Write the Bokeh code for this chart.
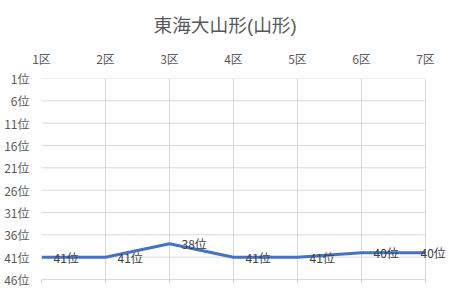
from bokeh.plotting import figure
from bokeh.models import (Range1d, LinearAxis, FixedTicker, Label,
                          PrintfTickFormatter)
from bokeh.embed import file_html
from bokeh.resources import INLINE

# ---- data ----
title_text = "東海大山形(山形)"
categories = ["1区", "2区", "3区", "4区", "5区", "6区", "7区"]
ranks = [41, 41, 38, 41, 41, 40, 40]
rank_labels = ["41位", "41位", "38位", "41位", "41位", "40位", "40位"]
rank_ticks = [1, 6, 11, 16, 21, 26, 31, 36, 41, 46]

FONT = "Noto Sans CJK JP"
TITLE_FONT = "'Liberation Sans', 'Noto Sans CJK JP'"
GRID = "#D9D9D9"
TXT = "#595959"

xs = list(range(1, len(categories) + 1))
n = len(categories)
xoff = [12] * (n - 1) + [-5]

# frame spans 41..449 px; category n sits at 425 px
x_end = n + 24.0 / (384.0 / (n - 1))

p = figure(width=449, height=300, output_backend="svg", toolbar_location=None,
           x_range=Range1d(1, x_end), y_range=Range1d(46, 1),
           x_axis_location=None, y_axis_location=None,
           min_border_left=41, min_border_right=0, min_border_top=78,
           min_border_bottom=21)
p.outline_line_color = None
p.background_fill_color = "white"
p.border_fill_color = "white"

p.title.text = title_text
p.title.align = "left"
p.title.offset = 112
p.title.standoff = 22
p.title.text_font = TITLE_FONT
p.title.text_font_size = "18.7px"
p.title.text_font_style = "normal"
p.title.text_color = TXT

# left axis
ya = LinearAxis(ticker=FixedTicker(ticks=rank_ticks),
                formatter=PrintfTickFormatter(format="%d位"))
ya.axis_line_color = None
ya.major_tick_line_color = None
ya.minor_tick_line_color = None
ya.major_label_text_font = FONT
ya.major_label_text_font_size = "12px"
ya.major_label_text_color = TXT
ya.major_label_standoff = 6
p.add_layout(ya, "left")

# top axis (category labels)
xa = LinearAxis(ticker=FixedTicker(ticks=xs),
                major_label_overrides={x: c for x, c in zip(xs, categories)})
xa.axis_line_color = None
xa.major_tick_line_color = None
xa.minor_tick_line_color = None
xa.major_label_text_font = FONT
xa.major_label_text_font_size = "12px"
xa.major_label_text_color = TXT
xa.major_label_standoff = 6
p.add_layout(xa, "above")

# bottom axis: only tick marks
xb = LinearAxis(ticker=FixedTicker(ticks=xs), bounds=(1, n))
xb.axis_line_color = GRID
xb.major_tick_line_color = GRID
xb.major_tick_out = 4
xb.major_tick_in = 0
xb.minor_tick_line_color = None
xb.major_label_text_alpha = 0
xb.major_label_text_font_size = "1px"
p.add_layout(xb, "below")

p.xgrid.ticker = FixedTicker(ticks=xs)
p.xgrid.grid_line_color = GRID
p.ygrid.grid_line_color = None
# horizontal gridlines limited to the category span
p.segment(x0=[1] * len(rank_ticks), x1=[n] * len(rank_ticks),
          y0=rank_ticks, y1=rank_ticks, line_color=GRID, line_width=1)

p.line(xs, ranks, line_color="#4472C4", line_width=3,
       line_join="round", line_cap="butt")

for x, y, t, o in zip(xs, ranks, rank_labels, xoff):
    p.add_layout(Label(x=x, y=y, text=t, x_offset=o,
                       text_font=FONT, text_font_size="12px",
                       text_color="#404040", text_baseline="middle",
                       text_align="left"))

open("out.html", "w").write(file_html(p, INLINE))
